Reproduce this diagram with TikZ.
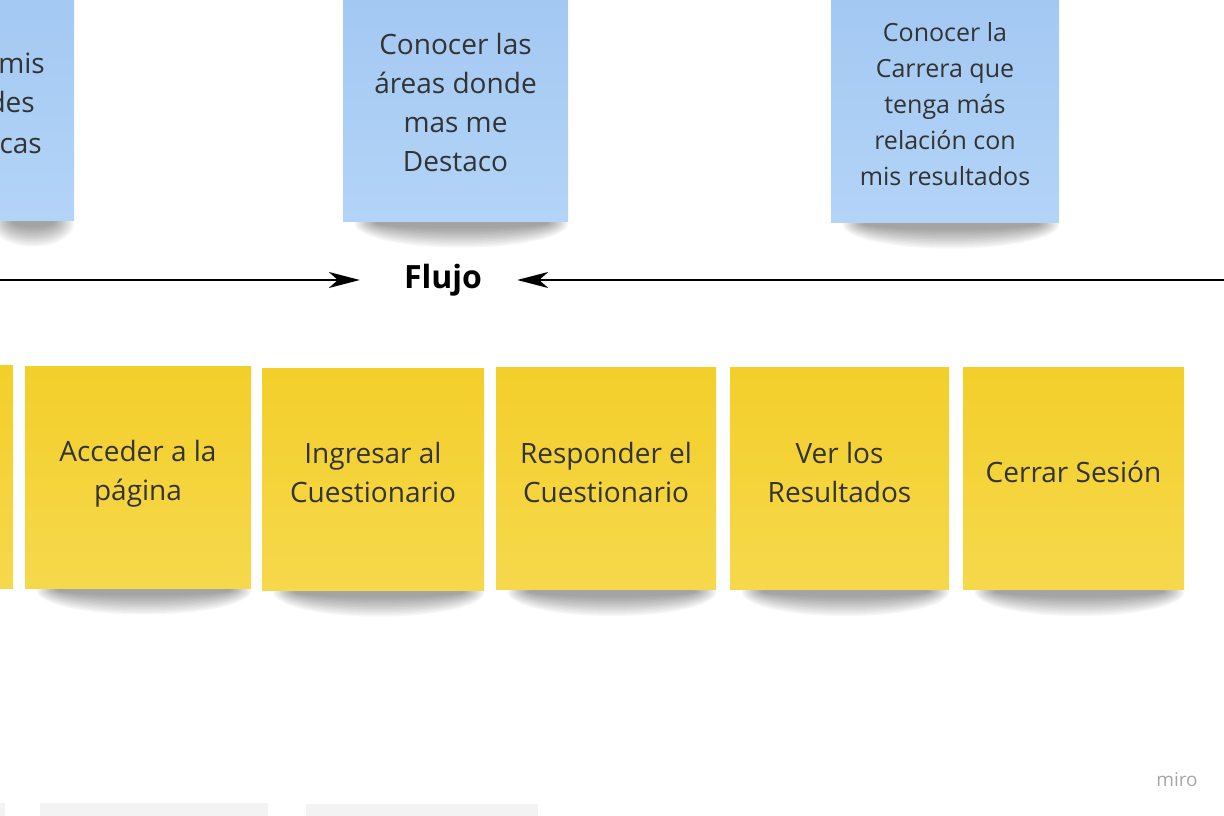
\documentclass[tikz,border=0pt]{standalone}
\usepackage{fontspec}
\setmainfont{Open Sans}
\usetikzlibrary{arrows.meta, positioning, calc, backgrounds}
\definecolor{blueTop}{HTML}{A3C8F2}
\definecolor{blueBot}{HTML}{B3D4F7}
\definecolor{yellowTop}{HTML}{F3CF2A}
\definecolor{yellowBot}{HTML}{F6D84C}
\definecolor{inkgray}{HTML}{333333}
\definecolor{stripgray}{HTML}{F3F3F3}
\tikzset{
  note/.style={inner sep=0pt, align=center, text=inkgray,
    font=\fontsize{28}{39}\selectfont, text depth=7pt},
  bluenote/.style={inner sep=0pt, top color=blueTop, bottom color=blueBot},
  yellownote/.style={inner sep=0pt, top color=yellowTop, bottom color=yellowBot},
  flow/.style={line width=2pt, -{Stealth[length=31pt, width=16pt, inset=9pt]}},
}
\begin{document}
\begin{tikzpicture}[x=1pt, y=-1pt]
\useasboundingbox (0,0) rectangle (1224,816);
\clip (0,0) rectangle (1224,816);

% blue notes (top row)
\node[bluenote, minimum width=94pt, minimum height=230pt] (blL) at (27,105) {};
\node[note, text depth=, anchor=base east] (blLa) at (45,74) {mis};
\node[note, text depth=, anchor=base east] (blLb) at (35,113) {des};
\node[note, text depth=, anchor=base east] (blLc) at (42,153) {cas};
\node[bluenote, minimum width=225pt, minimum height=223pt] (blC) at (455.5,109.5) {};
\node[note] (blCt) at (455.5,106) {Conocer las\\áreas donde\\mas me\\Destaco};
\node[bluenote, minimum width=228pt, minimum height=224pt] (blR) at (945,110) {};
\node[note, font=\fontsize{25}{36}\selectfont, text depth=6.25pt] (blRt) at (945,107)
  {Conocer la\\Carrera que\\tenga más\\relación con\\mis resultados};

% flow label and arrows
\node[inner sep=0pt, text=black, font=\fontsize{32}{38}\bfseries] (flujo) at (443,280) {Flujo};
\coordinate (flL) at (-2,280);
\coordinate (flR) at (1226,280);
\draw[flow, shorten >=44pt] (flL) -- (flujo);
\draw[flow, shorten >=35pt] (flR) -- (flujo);

% yellow notes (steps)
\node[yellownote, minimum width=33pt, minimum height=223pt] (yl0) at (-3.5,476.5) {};
\foreach \cx/\cy/\w/\ty/\txt [count=\i] in {138/477/226/474/{Acceder a la\\página},
    373/479/222/476/{Ingresar al\\Cuestionario}, 606/478.5/220/476/{Responder el\\Cuestionario},
    839.5/478.5/219/476/{Ver los\\Resultados}, 1073.5/478.5/221/475.5/{Cerrar Sesión}}{
  \node[yellownote, minimum width=\w pt, minimum height=222pt] (yl\i) at (\cx,\cy) {};
  \node[note] (yl\i t) at (\cx,\ty) {\txt};
}

% shadows under the notes
\begin{pgfonlayer}{background}
\foreach \nm in {blL,blC,blR,yl1,yl2,yl3,yl4,yl5}{
  \foreach \k in {1,...,14}{
    \path let \p1=(\nm.south west), \p2=(\nm.south east) in
      [fill=black, opacity=0.03]
      ({(\x1+\x2)/2+6pt}, \y1-2pt) ellipse [x radius={(\x2-\x1)/2-4pt-1.6pt*\k}, y radius={26pt-1.5pt*\k}];
  }
}
\end{pgfonlayer}

% bottom strip
\fill[stripgray] (-5,803) rectangle (5,820);
\fill[stripgray] (40,803) rectangle (268,820);
\fill[stripgray] (306,804) rectangle (538,820);

\node[text=black!35, font=\fontsize{19}{21}\selectfont] (logo) at (1177,780) {miro};
\end{tikzpicture}
\end{document}
